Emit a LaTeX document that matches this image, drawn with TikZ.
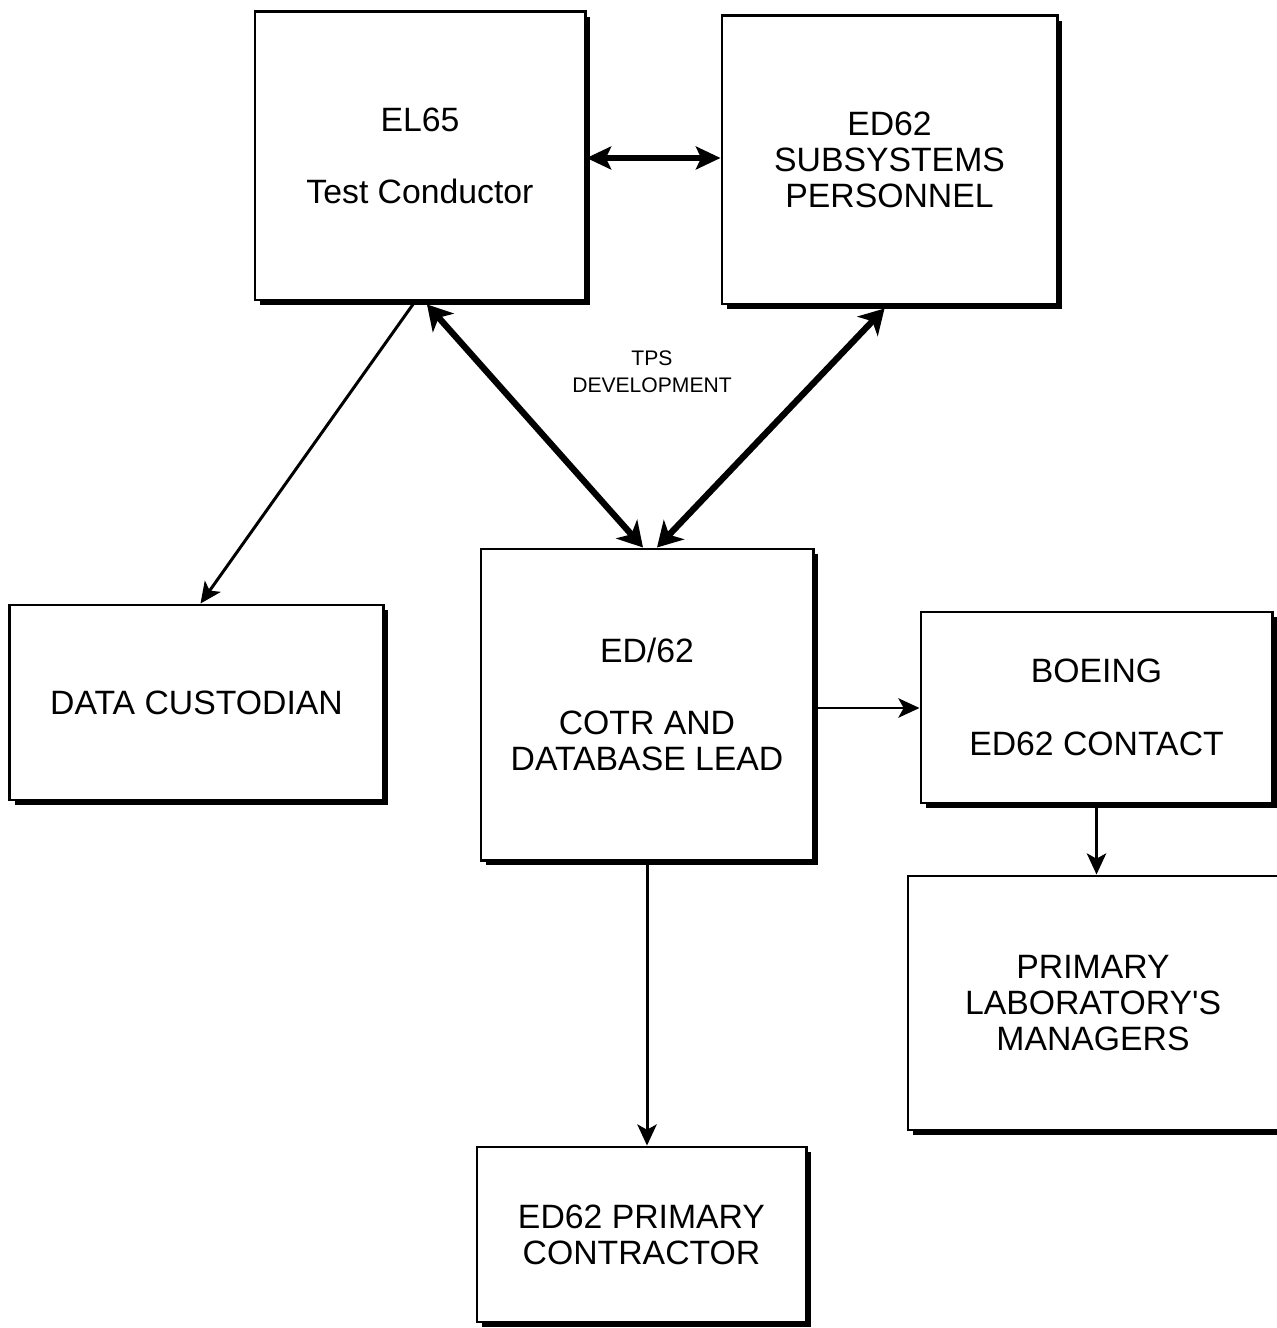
\documentclass[tikz,border=0pt]{standalone}
\usepackage{fontspec}
\setmainfont{Liberation Sans}
\usetikzlibrary{arrows.meta,shadows,calc}
\begin{document}
\begin{tikzpicture}[x=0.01cm,y=-0.01cm,
  box/.style={draw=black, line width=0.8pt, fill=white, inner sep=0pt, align=center,
    font=\fontsize{9.6}{10.3}\selectfont,
    drop shadow={shadow xshift=0.05cm, shadow yshift=-0.05cm, fill=black, opacity=1}},
  thin/.style={line width=0.85pt, -{Stealth[length=6pt,width=5.5pt,inset=1.5pt]}},
  thickdbl/.style={line width=1.8pt, {Stealth[length=7pt,width=8pt,inset=2pt]}-{Stealth[length=7pt,width=8pt,inset=2pt]}},
  hdbl/.style={line width=1.5pt, {Stealth[length=7pt,width=6.5pt,inset=1.5pt]}-{Stealth[length=7pt,width=6.5pt,inset=1.5pt]}},
  lbl/.style={font=\fontsize{6}{7.7}\selectfont, align=center, inner sep=0pt}]
\useasboundingbox (0,0) rectangle (1276,1328);
\node[box, minimum width=3.30cm, minimum height=2.88cm] (el) at (420,156) {EL65\\[10.3pt]Test Conductor};
\node[box, minimum width=3.35cm, minimum height=2.88cm] (ed) at (889.5,160) {ED62\\SUBSYSTEMS\\PERSONNEL};
\node[box, minimum width=3.73cm, minimum height=1.95cm] (dc) at (196.5,702.5) {DATA CUSTODIAN};
\node[box, minimum width=3.32cm, minimum height=3.11cm] (cotr) at (647,704.5) {ED/62\\[10.3pt]COTR AND\\DATABASE LEAD};
\node[box, minimum width=3.51cm, minimum height=1.91cm] (boe) at (1096.5,707.5) {BOEING\\[10.3pt]ED62 CONTACT};
\node[box, minimum width=3.70cm, minimum height=2.54cm] (pl) at (1093,1003) {PRIMARY\\LABORATORY\textquotesingle S\\MANAGERS};
\node[box, minimum width=3.29cm, minimum height=1.75cm] (con) at (641.5,1234.5) {ED62 PRIMARY\\CONTRACTOR};
\node[lbl] (tps) at (652,372) {TPS\\DEVELOPMENT};
\draw[hdbl] (el.east |- 0,158) -- (ed.west |- 0,158);
\draw[thin] ($(el.south)+(-5,0)$) -- ($(dc.north)+(4,0)$);
\draw[thickdbl] ($(el.south)+(7,3)$) -- ($(cotr.north)+(-4,0)$);
\draw[thickdbl] ($(ed.south)+(-5,3)$) -- ($(cotr.north)+(10,0)$);
\draw[thin] (cotr.east |- 0,708) -- (boe.west |- 0,708);
\draw[thin] (boe.south) -- (boe.south |- pl.north);
\draw[thin] (cotr.south) -- (cotr.south |- con.north);
\end{tikzpicture}
\end{document}
